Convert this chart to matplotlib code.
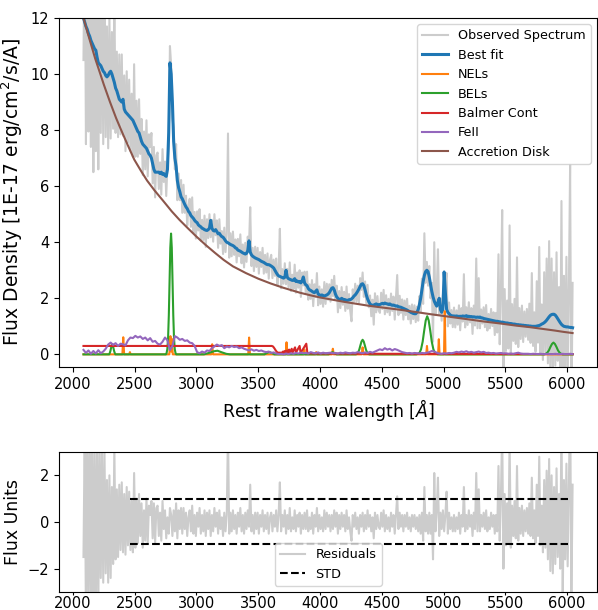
import numpy as np
import matplotlib
matplotlib.use('Agg')
import matplotlib.pyplot as plt

# spectrum grid, 10 A steps from 2085 to 6045
wave = np.arange(2085, 6046, 10)

# best fit model
best_fit = np.array([
    12.0, 11.85, 11.7, 11.6, 11.45, 11.35, 11.2, 11.1, 11.0, 10.9, 10.85, 10.6, 10.4, 10.35, 10.3, 10.2, 10.1, 10.05, 9.95, 9.9,
    9.95, 10.05, 10.1, 10.0, 9.85, 9.7, 9.5, 9.4, 9.25, 9.1, 9.05, 9.0, 9.1, 8.75, 8.65, 8.6, 8.55, 8.5, 8.45, 8.4,
    8.35, 8.25, 8.15, 8.05, 7.95, 7.9, 7.75, 7.6, 7.5, 7.45, 7.4, 7.35, 7.25, 7.15, 7.1, 7.0, 6.8, 6.6, 6.5, 6.5,
    6.5, 6.5, 6.45, 6.5, 6.42, 6.45, 6.38, 6.35, 6.6, 7.9, 10.4, 10.0, 9.0, 7.6, 7.0, 6.7, 6.2, 5.95, 5.8, 5.62,
    5.55, 5.45, 5.35, 5.26, 5.2, 5.1, 5.05, 4.95, 4.9, 4.85, 4.78, 4.73, 4.7, 4.62, 4.58, 4.55, 4.5, 4.48, 4.45, 4.43,
    4.42, 4.45, 4.5, 4.78, 4.5, 4.42, 4.4, 4.45, 4.38, 4.3, 4.32, 4.25, 4.2, 4.18, 4.12, 4.05, 4.0, 3.98, 3.95, 3.92,
    3.9, 3.88, 3.85, 3.8, 3.78, 3.72, 3.7, 3.68, 3.65, 3.62, 3.6, 3.58, 3.6, 3.7, 4.05, 3.65, 3.55, 3.5, 3.47, 3.44,
    3.42, 3.4, 3.38, 3.35, 3.32, 3.3, 3.28, 3.25, 3.22, 3.2, 3.2, 3.18, 3.15, 3.12, 3.08, 3.0, 2.92, 2.85, 2.8, 2.78,
    2.76, 2.74, 2.72, 2.75, 3.0, 2.75, 2.7, 2.68, 2.66, 2.64, 2.64, 2.7, 2.6, 2.62, 2.58, 2.6, 2.55, 2.62, 2.76, 2.55,
    2.48, 2.45, 2.35, 2.3, 2.28, 2.25, 2.22, 2.2, 2.25, 2.3, 2.15, 2.12, 2.1, 2.12, 2.1, 2.08, 2.1, 2.12, 2.15, 2.2,
    2.28, 2.36, 2.38, 2.3, 2.15, 2.05, 2.0, 1.96, 1.95, 2.0, 1.97, 1.93, 1.95, 1.92, 1.93, 1.95, 1.95, 1.98, 2.02, 2.08,
    2.12, 2.18, 2.25, 2.33, 2.42, 2.5, 2.52, 2.45, 2.3, 2.12, 1.98, 1.88, 1.8, 1.76, 1.75, 1.76, 1.78, 1.8, 1.78, 1.77,
    1.78, 1.8, 1.82, 1.8, 1.83, 1.81, 1.8, 1.78, 1.8, 1.77, 1.75, 1.76, 1.74, 1.72, 1.73, 1.7, 1.69, 1.68, 1.66, 1.64,
    1.62, 1.6, 1.58, 1.55, 1.53, 1.5, 1.48, 1.46, 1.45, 1.45, 1.5, 1.6, 1.78, 2.0, 2.3, 2.6, 2.82, 2.95, 3.0, 2.95,
    2.75, 2.5, 2.25, 2.05, 1.9, 1.8, 1.72, 1.85, 2.0, 1.6, 1.5, 1.6, 2.94, 2.2, 1.6, 1.5, 1.45, 1.4, 1.38, 1.37,
    1.37, 1.36, 1.37, 1.36, 1.35, 1.36, 1.35, 1.37, 1.36, 1.36, 1.38, 1.35, 1.36, 1.34, 1.35, 1.33, 1.34, 1.33, 1.32, 1.33,
    1.32, 1.33, 1.3, 1.3, 1.28, 1.27, 1.26, 1.25, 1.24, 1.23, 1.22, 1.21, 1.2, 1.19, 1.18, 1.18, 1.17, 1.16, 1.15, 1.15,
    1.14, 1.13, 1.12, 1.12, 1.11, 1.1, 1.1, 1.09, 1.08, 1.08, 1.07, 1.06, 1.06, 1.05, 1.05, 1.04, 1.04, 1.03, 1.03, 1.02,
    1.02, 1.01, 1.01, 1.0, 1.0, 1.0, 1.0, 1.01, 1.02, 1.03, 1.05, 1.08, 1.1, 1.13, 1.17, 1.22, 1.28, 1.34, 1.39, 1.42,
    1.43, 1.43, 1.4, 1.34, 1.27, 1.2, 1.13, 1.07, 1.03, 1.0, 0.99, 0.98, 0.98, 0.97, 0.96, 0.96, 0.95,
])

# data minus model
residuals = np.array([
    -1.5, 3.8, -4.2, 3.6, -3.5, 4.0, -3.8, 3.9, -4.5, 3.2, -3.6, 3.4, -3.8, 3.5, -2.4, 3.1, -2.6, 3.1, -2.2, 1.8,
    -2.6, 2.0, -2.4, 1.5, -1.8, 3.2, -1.6, 1.4, -1.5, 1.6, -1.2, 1.7, -1.3, 1.2, -1.4, 1.5, -1.0, 1.3, -1.2, 0.9,
    -1.3, 2.1, -1.1, 1.0, -0.9, 1.2, -0.6, 0.8, -1.1, 0.5, -0.8, 1.0, -0.9, 0.7, 0.3, 0.9, -0.7, 0.8, -0.9, 0.6,
    0.7, -0.6, 0.4, -0.8, 0.9, -0.3, 0.5, -0.7, 0.2, -0.5, 0.6, 0.3, -0.6, 0.5, -0.4, 0.8, -0.7, 0.5, -0.3, 0.6,
    -0.5, 0.6, -0.3, 0.4, -0.6, 0.2, 0.5, -0.4, 0.7, -0.5, 0.3, -0.6, 0.4, -0.2, 0.6, -0.5, 0.3, -0.4, 0.5, -0.6,
    0.4, -0.3, 0.5, -0.6, 0.3, -0.4, 0.6, -0.2, 0.4, -0.5, 0.5, -0.3, 0.2, -0.6, 0.4, -0.4, 0.3, 3.9, -0.5, 0.4,
    -0.4, 0.5, -0.3, 0.3, -0.5, 0.4, -0.2, 0.6, -0.4, 0.3, -0.5, 0.4, -0.3, 0.5, -0.2, 1.6, -0.4, 0.3, -0.5, 0.4,
    -0.3, 0.4, -0.5, 0.3, -0.2, 0.5, -0.4, 0.3, -0.3, 0.4, -0.5, 0.2, 0.4, -0.4, 0.3, -0.2, 0.5, -0.4, 0.3, 1.7,
    -0.4, 0.3, -0.2, 0.5, -0.5, 0.3, -0.3, 0.6, -0.4, 0.2, -0.3, 0.5, -0.4, 0.3, -0.2, 0.4, -0.5, 0.3, -0.3, 0.4,
    -0.3, 0.5, -0.4, 0.2, -0.3, 0.4, -0.5, 0.3, -0.2, 0.6, -0.4, 0.3, -0.3, 0.2, -0.4, 0.5, -0.3, 0.4, -0.2, 0.3,
    -0.4, 0.3, -0.3, 0.5, -0.2, 0.4, -0.5, 0.3, -0.3, 0.4, -0.2, 0.3, -0.4, 0.5, -0.3, 0.2, -0.4, -0.8, 0.3, -0.2,
    0.4, -0.3, 0.2, -0.5, 0.3, -0.2, 0.4, -0.4, 0.3, -0.3, 0.5, -0.2, 0.3, -0.4, 0.2, -0.7, 0.4, -0.3, 0.3, -0.2,
    -0.3, 0.4, -0.2, 0.5, -0.4, 0.3, -0.3, 0.2, -0.4, 0.4, -0.2, 0.3, -0.5, 0.3, 1.1, -0.3, 0.4, -0.2, 0.3, -0.4,
    0.3, -0.2, 0.4, -0.3, 0.2, -0.4, 0.3, -0.2, 0.3, -0.3, 0.2, -0.4, 0.3, -0.5, 0.4, -0.8, 1.5, -0.4, 0.3, -0.5,
    0.4, -0.5, 0.3, -1.6, 2.1, -0.4, 0.5, 1.9, -0.6, 0.4, -0.3, 0.5, -0.4, 0.3, 1.3, -0.5, 0.4, -0.3, 0.2, -0.4,
    0.3, -0.4, 0.2, -0.3, 0.4, -0.5, 0.3, -0.2, 1.5, -0.4, 0.3, -0.3, 0.5, -0.2, 0.3, -0.6, 0.4, -0.3, 2.1, -0.4,
    1.4, -0.4, 0.3, -0.2, 0.4, -0.3, 0.5, -0.4, 0.2, -0.3, 0.4, -0.2, 0.3, -0.5, 0.3, -0.4, 2.4, -0.8, 1.2, 4.0,
    -2.0, 1.2, -1.0, 0.8, -0.9, 3.5, -1.1, 0.7, -0.6, 0.9, -0.7, 2.4, -0.8, 0.6, -0.5, 0.7, -0.6, 0.5, -0.4, 0.6,
    -0.5, 0.8, -0.6, 1.9, -0.7, 0.5, -0.9, 1.6, -0.6, 2.8, -1.0, 0.7, -1.3, 1.8, -1.1, 2.2, -1.6, 2.7, -2.1, 2.0,
    -2.2, 1.5, -1.8, 2.3, -1.5, 1.2, -2.0, 4.4, -3.5, 1.8, -1.6, 2.5, -1.9, 1.4, 5.8, -3.6, 1.6,
])

observed = best_fit + residuals

# narrow emission lines
nel_wave = [2085, 2400, 2407, 2414, 2455, 2461, 2467, 2780, 2789, 2795, 2801, 2808,
            3120, 3127, 3134, 3419, 3426, 3433, 3722, 3729, 3736, 3866, 3873, 3880,
            3962, 3969, 3976, 4097, 4104, 4111, 4338, 4345, 4352, 4860, 4866, 4872,
            4956, 4962, 4968, 5004, 5010, 5016, 6045]
nel_flux = [0, 0, 0.61, 0, 0, 0.08, 0, 0, 0.65, 0.1, 0.55, 0,
            0, 0.36, 0, 0, 0.6, 0, 0, 0.43, 0, 0, 0.18, 0,
            0, 0.08, 0, 0, 0.2, 0, 0, 0.25, 0, 0, 0.3, 0,
            0, 0.54, 0, 0, 1.54, 0, 0]

# broad emission lines
bel_wave = [2085, 2293, 2298, 2303, 2308, 2313, 2318, 2323, 2328, 2333, 2338, 2343,
            2752, 2758, 2764, 2770, 2776, 2782, 2788, 2794, 2800, 2806, 2812, 2818, 2824, 2830, 2836,
            3060, 3100, 3140, 3170, 3200, 3240, 3270, 3550, 3570, 3590, 3610, 3630,
            4070, 4087, 4102, 4117, 4135,
            4291, 4300, 4309, 4318, 4327, 4336, 4345, 4354, 4363, 4372, 4381, 4390, 4399,
            4780, 4793, 4806, 4818, 4831, 4843, 4856, 4868, 4880, 4893, 4905, 4918, 4930, 4943, 4956,
            5815, 5828, 5840, 5853, 5865, 5878, 5890, 5902, 5915, 5927, 5940, 5952, 5965, 6045]
bel_flux = [0, 0, 0.05, 0.12, 0.22, 0.33, 0.37, 0.33, 0.22, 0.12, 0.05, 0,
            0, 0.05, 0.19, 0.58, 1.40, 2.61, 3.80, 4.31, 3.80, 2.61, 1.40, 0.58, 0.19, 0.05, 0,
            0, 0.05, 0.11, 0.13, 0.08, 0.02, 0, 0, 0.05, 0.08, 0.05, 0,
            0, 0.04, 0.08, 0.04, 0,
            0, 0.02, 0.07, 0.17, 0.32, 0.46, 0.52, 0.46, 0.32, 0.17, 0.07, 0.02, 0,
            0, 0.02, 0.06, 0.18, 0.45, 0.83, 1.21, 1.36, 1.21, 0.83, 0.45, 0.18, 0.06, 0.02, 0,
            0, 0.02, 0.06, 0.14, 0.26, 0.37, 0.42, 0.37, 0.26, 0.14, 0.06, 0.02, 0, 0]

# Balmer continuum + high order Balmer lines
bal_wave = [2085, 3610, 3620, 3630, 3640, 3650, 3660, 3697, 3700, 3704, 3712, 3716, 3722, 3727,
            3734, 3740, 3750, 3756, 3771, 3777, 3798, 3805, 3835, 3843, 3889, 3898, 3950, 4500, 6045]
bal_flux = [0.30, 0.30, 0.28, 0.22, 0.15, 0.09, 0.06, 0.06, 0.10, 0.06, 0.11, 0.06, 0.12, 0.06,
            0.14, 0.06, 0.17, 0.06, 0.20, 0.06, 0.25, 0.06, 0.30, 0.05, 0.38, 0.04, 0.03, 0.02, 0.01]

# FeII template, 20 A steps
feii_wave = np.arange(2085, 6046, 20)
feii_flux = np.array([
    0.16, 0.05, 0.14, 0.02, 0.12, 0.03, 0.15, 0.04, 0.1, 0.2,
    0.35, 0.42, 0.34, 0.4, 0.3, 0.38, 0.36, 0.32, 0.5, 0.6,
    0.58, 0.66, 0.6, 0.64, 0.55, 0.6, 0.5, 0.58, 0.45, 0.48,
    0.38, 0.35, 0.45, 0.6, 0.5, 0.15, 0.3, 0.65, 0.6, 0.52,
    0.55, 0.48, 0.5, 0.42, 0.4, 0.3, 0.08, 0.04, 0.1, 0.06,
    0.14, 0.12, 0.22, 0.28, 0.35, 0.3, 0.33, 0.22, 0.28, 0.25,
    0.3, 0.26, 0.28, 0.22, 0.25, 0.2, 0.17, 0.14, 0.18, 0.13,
    0.16, 0.12, 0.14, 0.1, 0.08, 0.1, 0.05, 0.07, 0.03, 0.01,
    0.02, 0.0, 0.03, 0.01, 0.04, 0.02, 0.05, 0.03, 0.06, 0.04,
    0.05, 0.03, 0.08, 0.05, 0.04, 0.07, 0.03, 0.06, 0.04, 0.05,
    0.06, 0.04, 0.05, 0.03, 0.06, 0.04, 0.07, 0.05, 0.04, 0.06,
    0.05, 0.08, 0.06, 0.04, 0.07, 0.05, 0.09, 0.06, 0.1, 0.14,
    0.18, 0.15, 0.22, 0.17, 0.2, 0.14, 0.19, 0.16, 0.12, 0.08,
    0.06, 0.04, 0.05, 0.03, 0.05, 0.04, 0.03, 0.05, 0.04, 0.06,
    0.08, 0.12, 0.1, 0.06, 0.03, 0.02, 0.04, 0.03, 0.05, 0.04,
    0.06, 0.09, 0.07, 0.1, 0.08, 0.11, 0.07, 0.09, 0.06, 0.08,
    0.1, 0.07, 0.09, 0.05, 0.06, 0.04, 0.05, 0.03, 0.04, 0.05,
    0.03, 0.04, 0.02, 0.03, 0.02, 0.04, 0.06, 0.03, 0.02, 0.02,
    0.02, 0.01, 0.02, 0.02, 0.01, 0.02, 0.01, 0.01, 0.02, 0.01,
    0.01, 0.02, 0.01, 0.01, 0.02, 0.01, 0.01, 0.02, 0.01,
])

# accretion disk continuum
disk_wave = [2085, 2120, 2150, 2180, 2211, 2250, 2300, 2350, 2400, 2450, 2496, 2550, 2600,
             2660, 2726, 2800, 2862, 2930, 3000, 3075, 3150, 3220, 3295, 3400, 3500, 3600,
             3700, 3837, 3920, 4000, 4100, 4200, 4300, 4400, 4525, 4650, 4775, 4900, 5050,
             5200, 5330, 5463, 5580, 5700, 5800, 5900, 5975, 6045]
disk_flux = [12.0, 11.45, 11.0, 10.55, 10.14, 9.62, 9.0, 8.42, 7.9, 7.4, 6.95, 6.55, 6.2,
             5.85, 5.5, 5.1, 4.8, 4.5, 4.2, 3.9, 3.62, 3.37, 3.14, 2.9, 2.7, 2.53,
             2.38, 2.2, 2.11, 2.03, 1.95, 1.87, 1.8, 1.73, 1.66, 1.59, 1.51, 1.43, 1.34,
             1.25, 1.17, 1.1, 1.03, 0.97, 0.91, 0.85, 0.8, 0.76]

# residual scatter
std_wave = [2460, 6010]
std_up = 0.98
std_low = -0.94

plt.rcParams['font.size'] = 10.5

fig = plt.figure(figsize=(5.98, 6.10), dpi=100)
ax1 = fig.add_axes([0.0987, 0.3984, 0.8997, 0.5721])
ax2 = fig.add_axes([0.0987, 0.0295, 0.8997, 0.2295], sharex=ax1)

ax1.plot(wave, observed, color='#cccccc', lw=1.5, label='Observed Spectrum')
ax1.plot(wave, best_fit, color='tab:blue', lw=2.2, label='Best fit')
ax1.plot(nel_wave, nel_flux, color='tab:orange', lw=1.5, label='NELs')
ax1.plot(bel_wave, bel_flux, color='tab:green', lw=1.5, label='BELs')
ax1.plot(bal_wave, bal_flux, color='tab:red', lw=1.5, label='Balmer Cont')
ax1.plot(feii_wave, feii_flux, color='tab:purple', lw=1.5, label='FeII')
ax1.plot(disk_wave, disk_flux, color='tab:brown', lw=1.5, label='Accretion Disk')
ax1.set_ylim(-0.45, 12)
ax1.set_xlabel(r'Rest frame walength [$\AA$]', fontsize=12.5)
ax1.set_ylabel(r'Flux Density [1E-17 erg/cm$^2$/s/A]', fontsize=13.5)
ax1.legend(loc='upper right', fontsize=9.2)
ax1.tick_params(labelbottom=True)

ax2.plot(wave, residuals, color='#cccccc', lw=1.5, label='Residuals')
ax2.plot(std_wave, [std_up, std_up], 'k--', lw=1.5, label='STD')
ax2.plot(std_wave, [std_low, std_low], 'k--', lw=1.5)
ax2.set_ylim(-3, 3)
ax2.set_ylabel('Flux Units', fontsize=12.5)
ax2.legend(loc='lower center', fontsize=9.2)
ax2.set_xticks(np.arange(2000, 6001, 500))
ax2.tick_params(axis='x', length=2.5, pad=0.5)

fig.savefig('out.png', dpi=100)
